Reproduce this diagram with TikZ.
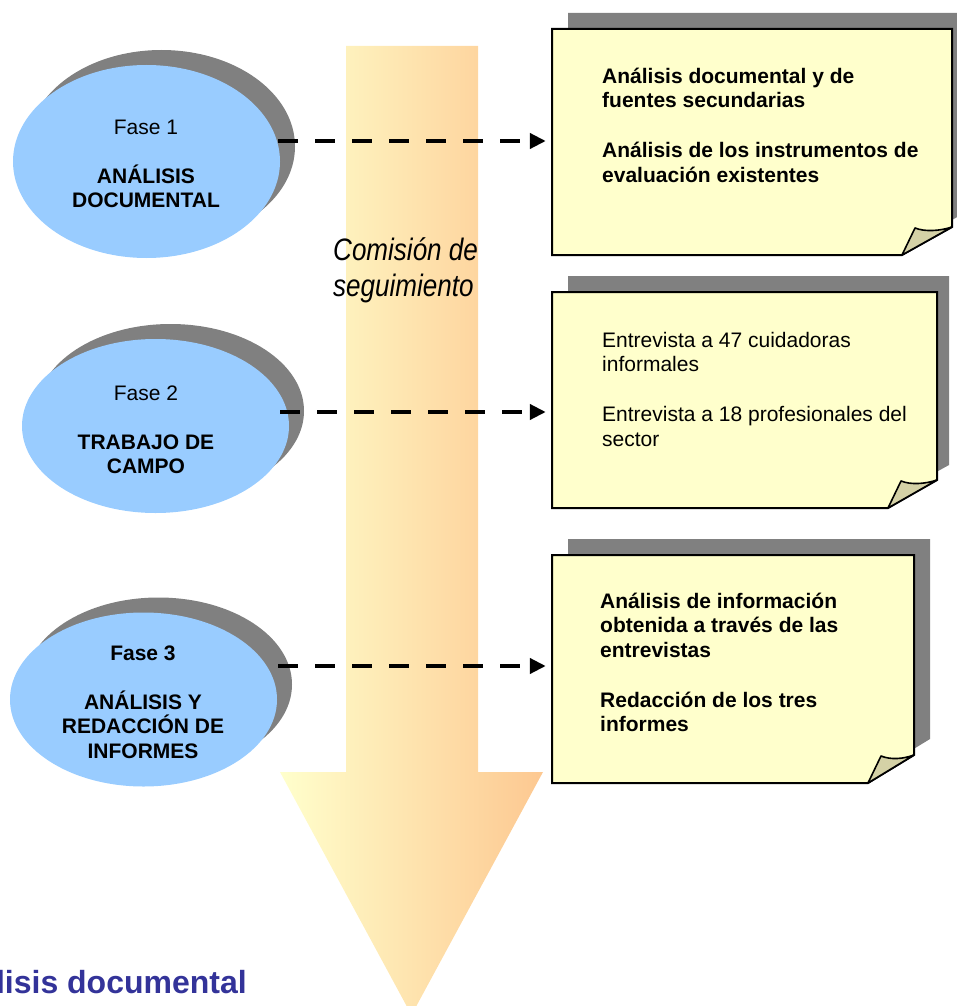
\documentclass[tikz,border=0pt]{standalone}
\usepackage{fontspec}
\setmainfont{Liberation Sans}
\newfontfamily\narrowsans{Liberation Sans}[FakeStretch=0.84]
\usetikzlibrary{shapes.geometric,arrows.meta,calc}

\definecolor{phaseblue}{HTML}{99CCFF}
\definecolor{shadowgray}{HTML}{808080}
\definecolor{notefill}{HTML}{FFFFCC}
\definecolor{curlfill}{HTML}{D4D1A6}
\definecolor{flowlight}{HTML}{FFFFCC}
\definecolor{flowdark}{HTML}{FDC891}
\definecolor{titleblue}{HTML}{333399}

% invisible strut fixing the top of the first text line
\newcommand\notestrut{\rule{0pt}{20pt}}

\begin{document}
\begin{tikzpicture}[x=1pt,y=-1pt,
  phase/.style={ellipse, fill=phaseblue, inner sep=0pt,
    minimum width=267pt, minimum height=174pt},
  phaseshadow/.style={ellipse, fill=shadowgray, inner sep=0pt,
    minimum width=267pt, minimum height=174pt},
  phasetext/.style={anchor=north, align=center, inner sep=0pt,
    font=\fontsize{21}{24.5}\selectfont},
  notetext/.style={anchor=north west, align=left, inner sep=0pt,
    font=\fontsize{21}{24.7}\selectfont},
  notearea/.style={inner sep=0pt},
  note/.style={fill=notefill, draw=black, line width=2pt, line join=miter},
  curl/.style={fill=curlfill, draw=black, line width=1.6pt, line join=round},
  noteshadow/.style={fill=shadowgray},
  link/.style={line width=4.6pt, dash pattern=on 20pt off 17pt,
    -{Triangle[length=16pt,width=15pt]}, shorten >=6pt},
]
\useasboundingbox (0,0) rectangle (957,1006);
\clip (0,0) rectangle (957,1006);

% ---- central flow arrow
\shade[left color=flowlight, right color=flowdark]
  (346,46) -- (478,46) -- (478,772) -- (543,772) -- (411.5,1015)
  -- (280,772) -- (346,772) -- cycle;
\node[anchor=north west, align=left, inner sep=0pt,
  font=\narrowsans\itshape\fontsize{31}{36}\selectfont] (comision) at (333,230)
  {\rule{0pt}{30pt}Comisión de\\seguimiento};

% ---- phases
\node[phaseshadow, minimum height=193pt] (f1s) at (161.5,146.5) {};
\node[phase, minimum height=193pt] (f1) at (146.5,161.5) {};
\node[phasetext] (f1t) at (146,114)
  {\notestrut Fase 1\\[24.5pt]\textbf{ANÁLISIS}\\\textbf{DOCUMENTAL}};

\node[phaseshadow] (f2s) at (170.5,411) {};
\node[phase] (f2) at (155.5,426) {};
\node[phasetext] (f2t) at (146,380)
  {\notestrut Fase 2\\[24.5pt]\textbf{TRABAJO DE}\\\textbf{CAMPO}};

\node[phaseshadow] (f3s) at (158.5,684.5) {};
\node[phase] (f3) at (143.5,699.5) {};
\node[phasetext, font=\bfseries\fontsize{21}{24.5}\selectfont] (f3t) at (143,640)
  {\notestrut Fase 3\\[24.5pt]ANÁLISIS Y\\REDACCIÓN DE\\INFORMES};

% ---- note 1
\path[noteshadow] (568,13) -- (968,13) -- (968,211) -- (918,239) -- (568,239) -- cycle;
\path[note] (552,29) -- (952,29) -- (952,227) -- (902,255) -- (552,255) -- cycle;
\path[curl] (902,255) -- (915,228) .. controls (925,232) and (940,231) .. (952,227) -- cycle;
\node[notearea, minimum width=400pt, minimum height=226pt] (n1) at (752,142) {};
\node[notetext, font=\bfseries\fontsize{21}{24.7}\selectfont] (n1t) at (602,63)
  {\notestrut Análisis documental y de\\fuentes secundarias\\[24.7pt]%
   Análisis de los instrumentos de\\evaluación existentes};

% ---- note 2
\path[noteshadow] (568,276) -- (949,276) -- (949,465) -- (900,492) -- (568,492) -- cycle;
\path[note] (552,292) -- (937,292) -- (937,480) -- (888,508) -- (552,508) -- cycle;
\path[curl] (888,508) -- (901,481) .. controls (911,485) and (925,484) .. (937,480) -- cycle;
\node[notearea, minimum width=385pt, minimum height=216pt] (n2) at (744.5,400) {};
\node[notetext] (n2t) at (602,327)
  {\notestrut Entrevista a 47 cuidadoras\\informales\\[24.7pt]%
   Entrevista a 18 profesionales del\\sector};

% ---- note 3
\path[noteshadow] (568,539) -- (930,539) -- (930,739) -- (884,767) -- (568,767) -- cycle;
\path[note] (552,555) -- (914,555) -- (914,755) -- (868,783) -- (552,783) -- cycle;
\path[curl] (868,783) -- (881,756) .. controls (891,760) and (903,759) .. (914,755) -- cycle;
\node[notearea, minimum width=362pt, minimum height=228pt] (n3) at (733,669) {};
\node[notetext, font=\bfseries\fontsize{21}{24.7}\selectfont] (n3t) at (600,588)
  {\notestrut Análisis de información\\obtenida a través de las\\entrevistas\\[24.7pt]%
   Redacción de los tres\\informes};

% ---- links from phases to notes
\coordinate (s1) at (278,141);
\coordinate (s2) at (280,412);
\coordinate (s3) at (278,666);
\draw[link] (s1) -- (n1.west |- s1);
\draw[link] (s2) -- (n2.west |- s2);
\draw[link] (s3) -- (n3.west |- s3);

% ---- caption, running off the left edge
\node[anchor=base east, inner sep=0pt, text=titleblue,
  font=\bfseries\fontsize{32}{38}\selectfont] (caption) at (247,993)
  {Análisis documental};
\end{tikzpicture}
\end{document}
